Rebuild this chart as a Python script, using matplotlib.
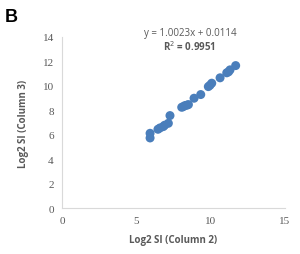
import matplotlib
matplotlib.use("Agg")
import matplotlib.pyplot as plt

col2 = [5.92, 5.92, 6.45, 6.59, 6.81, 6.9, 7.15, 7.26, 8.05, 8.15, 8.27, 8.4, 8.5,
        8.88, 9.33, 9.84, 9.95, 10.07, 10.63, 11.08, 11.2, 11.3, 11.68]
col3 = [6.12, 5.74, 6.45, 6.56, 6.67, 6.78, 6.94, 7.57, 8.25, 8.3, 8.39, 8.42, 8.47,
        8.99, 9.29, 9.94, 10.05, 10.22, 10.66, 11.07, 11.15, 11.31, 11.66]
xticks = [0, 5, 10, 15]
yticks = [0, 2, 4, 6, 8, 10, 12, 14]
equation = "y = 1.0023x + 0.0114"
r2_text = "R$^2$ = 0.9951"

fig = plt.figure(figsize=(3.0, 2.55), dpi=100)
ax = fig.add_axes([0.207, 0.18, 0.743, 0.671])
ax.scatter(col2, col3, s=42, color="#4A7EBB", edgecolors="none", zorder=3)
ax.set_xlim(0, 15)
ax.set_ylim(0, 14)
ax.set_xticks(xticks)
ax.set_yticks(yticks)
ax.tick_params(length=0, pad=6, labelsize=8, labelcolor="#595959")
for lab in ax.get_xticklabels() + ax.get_yticklabels():
    lab.set_family("Liberation Serif")
for s in ["top", "right"]:
    ax.spines[s].set_visible(False)
for s in ["left", "bottom"]:
    ax.spines[s].set_color("#D9D9D9")
    ax.spines[s].set_linewidth(0.8)
ax.set_xlabel("Log2 SI (Column 2)", fontsize=7, color="#595959", fontweight="bold",
              family="Open Sans", labelpad=6)
ax.set_ylabel("Log2 SI (Column 3)", fontsize=7, color="#595959", fontweight="bold",
              family="Open Sans", labelpad=10)
fig.text(0.633, 0.868, equation, fontsize=7, color="#595959", ha="center", va="center",
         family="Open Sans")
fig.text(0.633, 0.817, r2_text, fontsize=7, color="#595959", ha="center", va="center",
         family="Open Sans", fontweight="bold")
fig.text(0.015, 0.93, "B", fontsize=13, fontweight="bold", color="black",
         family="Liberation Sans", va="center")
fig.savefig("out.png", dpi=100)
